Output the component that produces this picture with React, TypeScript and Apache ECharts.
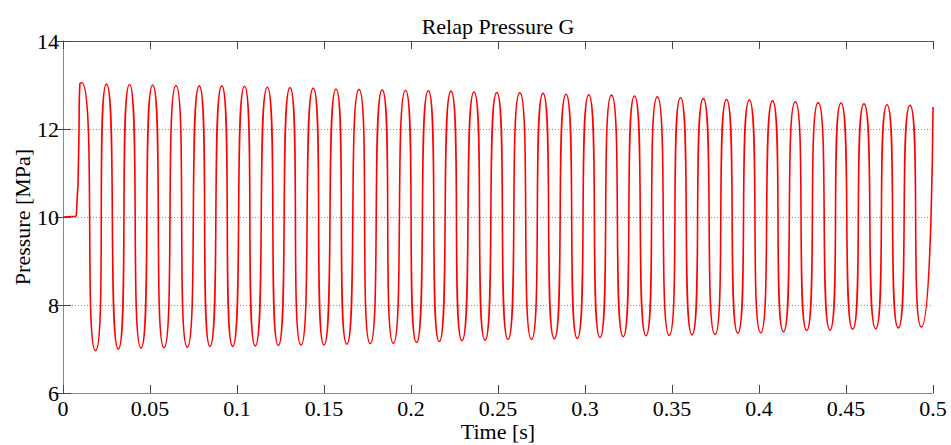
import React, { useEffect, useRef } from "react";
import * as echarts from "echarts";

// Initial steady state and first rise (time in s, pressure in MPa)
const startupTime = [0, 0.0058, 0.0078, 0.0089, 0.0097];
const startupPressure = [10.0, 10.01, 10.12, 11.3, 13.03];

// Oscillation maxima
const peakTime = [
  0.0108, 0.025, 0.03822, 0.05155, 0.06494, 0.07828, 0.09126, 0.10431, 0.11741, 0.13046,
  0.14379, 0.1569, 0.17011, 0.18345, 0.19684, 0.20994, 0.22299, 0.23621, 0.24931, 0.26253,
  0.27586, 0.28908, 0.30218, 0.31523, 0.32845, 0.34155, 0.35489, 0.36799, 0.38132, 0.39443,
  0.40776, 0.42086, 0.43402, 0.44713, 0.46034, 0.47356, 0.48678,
];
const peakPressure = [
  13.05, 13.02, 13.01, 13.0, 12.99, 12.98, 12.98, 12.97, 12.95, 12.94,
  12.93, 12.91, 12.9, 12.89, 12.88, 12.87, 12.86, 12.84, 12.83, 12.82,
  12.81, 12.79, 12.78, 12.77, 12.75, 12.73, 12.71, 12.69, 12.67, 12.66,
  12.64, 12.62, 12.6, 12.59, 12.57, 12.55, 12.54,
];

// Oscillation minima
const troughTime = [
  0.01868, 0.03178, 0.04483, 0.05805, 0.07144, 0.08448, 0.09753, 0.11052, 0.12374, 0.13678,
  0.15, 0.1631, 0.17655, 0.18983, 0.20316, 0.21626, 0.22931, 0.24253, 0.25575, 0.26925,
  0.28236, 0.29557, 0.30862, 0.32195, 0.33506, 0.34839, 0.36149, 0.37471, 0.38782, 0.40098,
  0.41408, 0.42741, 0.4408, 0.45385, 0.46707, 0.48006, 0.49328,
];
const troughPressure = [
  6.96, 7.0, 7.02, 7.03, 7.04, 7.06, 7.06, 7.07, 7.08, 7.09,
  7.09, 7.11, 7.12, 7.13, 7.15, 7.17, 7.19, 7.2, 7.22, 7.22,
  7.23, 7.24, 7.26, 7.28, 7.3, 7.31, 7.32, 7.33, 7.36, 7.37,
  7.39, 7.42, 7.43, 7.45, 7.46, 7.48, 7.5,
];

// Last sample
const endTime = [0.5];
const endPressure = [12.5];

const FONT = '"Liberation Serif", "Times New Roman", serif';

function buildData(): [number, number][] {
  const pts: [number, number][] = [];
  startupTime.forEach((t, i) => pts.push([t, startupPressure[i]]));
  peakTime.forEach((t, i) => pts.push([t, peakPressure[i]]));
  troughTime.forEach((t, i) => pts.push([t, troughPressure[i]]));
  endTime.forEach((t, i) => pts.push([t, endPressure[i]]));
  pts.sort((a, b) => a[0] - b[0]);
  return pts;
}

export default function App() {
  const ref = useRef<HTMLDivElement>(null);
  useEffect(() => {
    if (!ref.current) return;
    const chart = echarts.init(ref.current, null, { renderer: "svg" });
    const axisLineColor = "#8a8a8a";
    const tickColor = "#444";
    const labelStyle = { fontFamily: FONT, fontSize: 22, color: "#000" };
    chart.setOption({
      animation: false,
      backgroundColor: "#fff",
      grid: {
        left: 63,
        right: 18,
        top: 41,
        bottom: 52,
        containLabel: false,
        outerBoundsMode: "none",
      },
      graphic: [
        {
          type: "text",
          x: 498,
          y: 26,
          style: {
            text: "Relap Pressure G",
            font: `22px ${FONT}`,
            fill: "#000",
            textAlign: "center",
            textVerticalAlign: "middle",
          },
        },
      ],
      xAxis: [
        {
          type: "value",
          position: "bottom",
          min: 0,
          max: 0.5,
          interval: 0.05,
          name: "Time [s]",
          nameLocation: "middle",
          nameGap: 27,
          nameMoveOverlap: false,
          nameTextStyle: labelStyle,
          axisLine: { show: true, lineStyle: { color: axisLineColor, width: 1 } },
          axisTick: { show: true, inside: true, length: 8, lineStyle: { color: tickColor } },
          axisLabel: { ...labelStyle, margin: 4 },
          splitLine: { show: false },
        },
        {
          type: "value",
          position: "top",
          min: 0,
          max: 0.5,
          interval: 0.05,
          axisLine: { show: true, lineStyle: { color: "#555", width: 1 } },
          axisTick: { show: true, inside: true, length: 8, lineStyle: { color: tickColor } },
          axisLabel: { show: false },
          splitLine: { show: false },
        },
      ],
      yAxis: [
        {
          type: "value",
          position: "left",
          min: 6,
          max: 14,
          interval: 2,
          name: "Pressure [MPa]",
          nameLocation: "middle",
          nameGap: 30,
          nameMoveOverlap: false,
          nameRotate: 90,
          nameTextStyle: labelStyle,
          axisLine: { show: true, lineStyle: { color: axisLineColor, width: 1 } },
          axisTick: { show: true, inside: true, length: 8, lineStyle: { color: tickColor } },
          axisLabel: { ...labelStyle, margin: 4 },
          splitLine: { show: true, lineStyle: { color: "#888", type: [1, 2], width: 1 } },
        },
        {
          type: "value",
          position: "right",
          min: 6,
          max: 14,
          interval: 2,
          axisLine: { show: true, lineStyle: { color: axisLineColor, width: 1 } },
          axisTick: { show: true, inside: true, length: 8, lineStyle: { color: tickColor } },
          axisLabel: { show: false },
          splitLine: { show: false },
        },
      ],
      series: [
        {
          type: "line",
          xAxisIndex: 0,
          yAxisIndex: 0,
          data: buildData(),
          showSymbol: false,
          symbol: "none",
          smooth: 0.9,
          lineStyle: { color: "#ff0000", width: 1.6 },
        },
      ],
    });
    return () => chart.dispose();
  }, []);
  return (
    <div
      ref={ref}
      style={{ position: "fixed", left: 0, top: 0, width: 951, height: 445, background: "#fff" }}
    />
  );
}
